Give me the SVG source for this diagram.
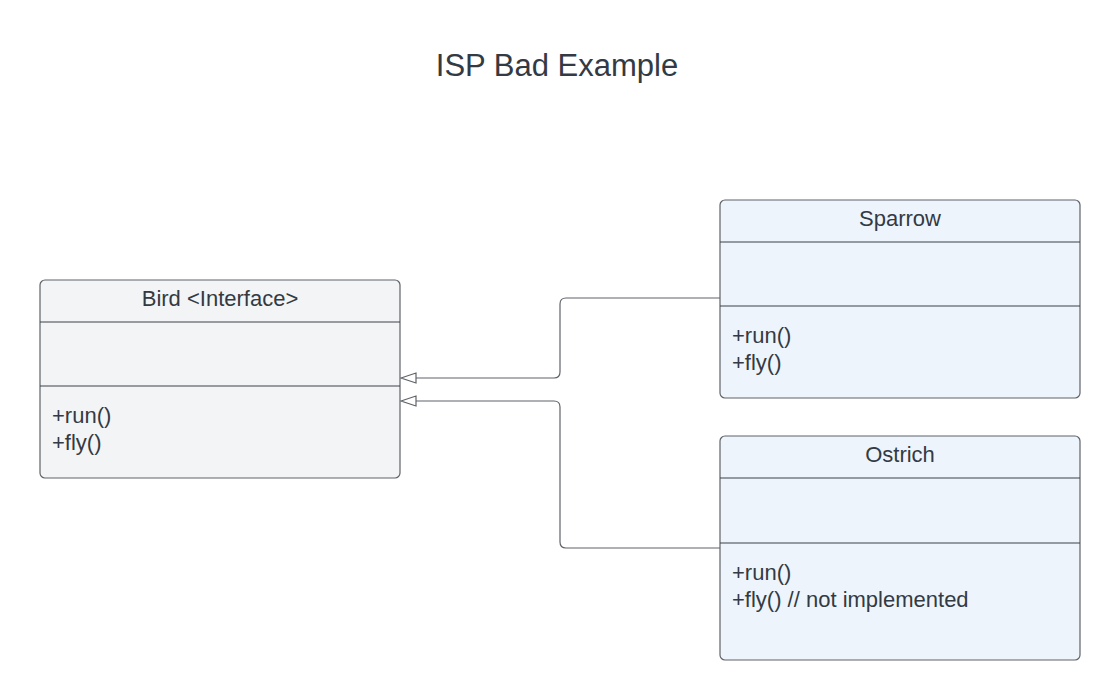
<svg xmlns="http://www.w3.org/2000/svg" width="1120" height="700" viewBox="0 0 1120 700">
<defs>
<style>
text{font-family:"Liberation Sans",Arial,sans-serif;fill:#333a43;}
.title{font-size:31px;text-anchor:middle;}
.hd{font-size:22px;text-anchor:middle;}
.m{font-size:22px;}
.box{stroke:#5f6368;stroke-width:1.2;}
.div{stroke:#3d4148;stroke-width:1.2;}
.gray{fill:#f2f4f6;}
.blue{fill:#edf4fc;}
.conn{fill:none;stroke:#5f6368;stroke-width:1.2;}
.arr{fill:#ffffff;stroke:#5f6368;stroke-width:1.2;}
</style>
</defs>
<rect width="1120" height="700" fill="#ffffff"/>
<text class="title" x="557" y="76">ISP Bad Example</text>
<g id="connectors">
<path class="conn" d="M720,298 L566,298 Q560,298 560,304 L560,372 Q560,378 554,378 L416,378"/>
<path class="conn" d="M720,548 L566,548 Q560,548 560,542 L560,407 Q560,401 554,401 L416,401"/>
<path class="arr" d="M401,378 L416,373 L416,383 Z"/>
<path class="arr" d="M401,401 L416,396 L416,406 Z"/>
</g>
<g id="bird">
<rect class="box gray" x="40" y="280" width="360" height="198" rx="5"/>
<line class="div" x1="40" y1="322" x2="400" y2="322"/>
<line class="div" x1="40" y1="386" x2="400" y2="386"/>
<text class="hd" x="220" y="306">Bird &lt;Interface&gt;</text>
<text class="m" x="52" y="423">+run()</text>
<text class="m" x="52" y="450">+fly()</text>
</g>
<g id="sparrow">
<rect class="box blue" x="720" y="200" width="360" height="198" rx="5"/>
<line class="div" x1="720" y1="242" x2="1080" y2="242"/>
<line class="div" x1="720" y1="306" x2="1080" y2="306"/>
<text class="hd" x="900" y="226">Sparrow</text>
<text class="m" x="732" y="343">+run()</text>
<text class="m" x="732" y="370">+fly()</text>
</g>
<g id="ostrich">
<rect class="box blue" x="720" y="436" width="360" height="224" rx="5"/>
<line class="div" x1="720" y1="478" x2="1080" y2="478"/>
<line class="div" x1="720" y1="543" x2="1080" y2="543"/>
<text class="hd" x="900" y="462">Ostrich</text>
<text class="m" x="732" y="580">+run()</text>
<text class="m" x="732" y="607">+fly() // not implemented</text>
</g>
</svg>
